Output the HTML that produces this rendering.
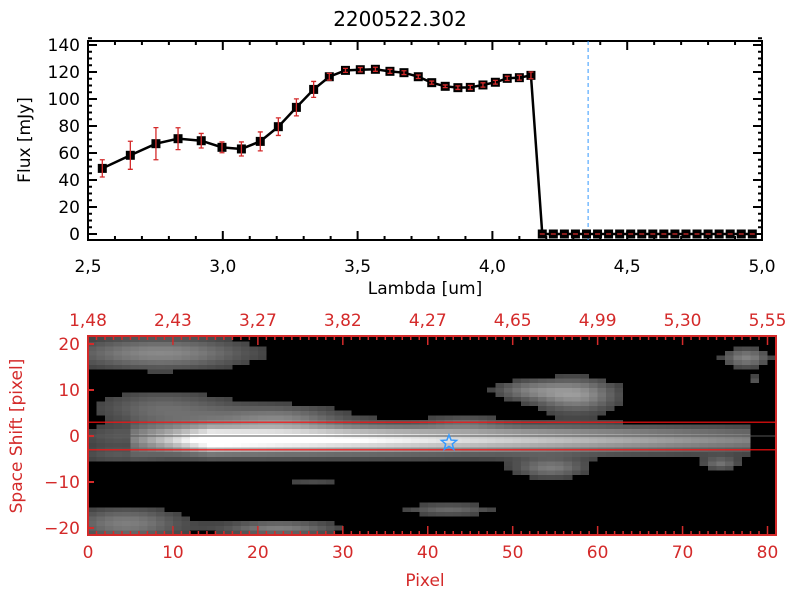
<!DOCTYPE html>
<html><head><meta charset="utf-8"><style>
html,body{margin:0;padding:0;background:#fff}
svg{display:block;font-family:"DejaVu Sans","Liberation Sans",sans-serif}
</style></head><body>
<svg id="c" width="800" height="600" viewBox="0 0 800 600">
<rect width="800" height="600" fill="#fff"/>
<text x="400" y="26" font-size="20" text-anchor="middle">2200522.302</text>
<g id="topPanel"></g>
<g id="botPanel"></g>
</svg>
<script>
const lambdas=[2.553,2.657,2.752,2.834,2.920,2.997,3.069,3.139,3.206,3.273,3.337,3.395,3.455,3.510,3.566,3.620,3.672,3.725,3.775,3.825,3.872,3.918,3.965,4.011,4.055,4.100,4.143,4.185,4.226,4.267,4.308,4.349,4.390,4.431,4.472,4.513,4.554,4.595,4.636,4.677,4.718,4.759,4.800,4.841,4.882,4.923,4.964];
const flux=[48.6,58.3,66.9,70.6,69.1,64.2,63.0,68.6,79.5,93.8,107.1,116.5,121.2,121.7,122.0,120.5,119.5,116.5,112.1,109.4,108.4,108.6,110.4,112.4,115.3,115.8,117.5,0,0,0,0,0,0,0,0,0,0,0,0,0,0,0,0,0,0,0,0];
const fluxErr=[6.4,10.4,11.9,8.1,5.4,4.0,5.2,7.0,6.5,6.3,5.9,2.5,1.5,1.6,1.5,1.5,1.4,1.3,1.2,1.0,1.3,1.5,1.6,1.4,1.6,1.8,2.5,0,0,0,0,0,0,0,0,0,0,0,0,0,0,0,0,0,0,0,0];
const xTicks=["2.5","3.0","3.5","4.0","4.5","5.0"];
const yTicks=[0,20,40,60,80,100,120,140];
const markLambda=4.355;
// image panel data
const pixTicks=[0,10,20,30,40,50,60,70,80];
const lamTopLabels=["1.48","2.43","3.27","3.82","4.27","4.65","4.99","5.30","5.55"];
const shiftTicks=[-20,-10,0,10,20];
const blobX=[8,8,22,57,51,77,78,54,74,4,22,42,26,44,3,3];
const blobY=[18,6,4,9,10,17,12,-7,-6,-19,-20,-16,-10,3,-4,0];
const blobSX=[8,6,5,3.5,3,2,1,3,1.5,5,5,4,3,3,4,4];
const blobSY=[2.5,3,2,2.5,1.5,1.5,1,1.5,1,2.5,1.2,1,1,1,1.5,1.5];
const blobAmp=[0.45,0.3,0.3,0.5,0.3,0.42,0.2,0.35,0.3,0.4,0.4,0.3,0.15,0.15,0.22,0.2];
const starPix=42.5, starShift=-1.5;

const NS="http://www.w3.org/2000/svg";
function mk(p,t,a){const e=document.createElementNS(NS,t);for(const k in a)e.setAttribute(k,a[k]);p.appendChild(e);return e;}
const topG=document.getElementById('topPanel'),botG=document.getElementById('botPanel');
const X0=88,X1=762,Y0=240,Y1=41;
const sx=l=>X0+(l-2.5)/2.5*(X1-X0);
const sy=v=>234-v*1.35;
const RED="#d42a2a";

let fr=mk(topG,'rect',{x:X0,y:Y1,width:X1-X0,height:Y0-Y1,fill:'none',stroke:'#000','stroke-width':2});

for(let i=0;i<=25;i++){const l=2.5+i*0.1,x=sx(l),len=(i%5==0)?9:4;
 mk(topG,'line',{x1:x,x2:x,y1:Y0,y2:Y0-len,stroke:'#000','stroke-width':2});
 mk(topG,'line',{x1:x,x2:x,y1:Y1,y2:Y1+len,stroke:'#000','stroke-width':2});}
xTicks.forEach(t=>{const e=mk(topG,'text',{x:sx(parseFloat(t)),y:272,'font-size':17,'text-anchor':'middle'});e.textContent=t.replace('.',',');
 });
for(let v=0;v<=145;v+=5){const y=sy(v),len=(v%20==0)?9:4;
 mk(topG,'line',{x1:X0,x2:X0+len,y1:y,y2:y,stroke:'#000','stroke-width':2});
 mk(topG,'line',{x1:X1,x2:X1-len,y1:y,y2:y,stroke:'#000','stroke-width':2});}
yTicks.forEach(v=>{const e=mk(topG,'text',{x:80,y:sy(v)+6,'font-size':17,'text-anchor':'end'});e.textContent=v;
 });
let t1=mk(topG,'text',{x:425,y:294,'font-size':17,'text-anchor':'middle'});t1.textContent='Lambda [um]';

let t2=mk(topG,'text',{x:0,y:0,'font-size':17,'text-anchor':'middle',transform:'translate(30,140) rotate(-90)'});t2.textContent='Flux [mJy]';

let vl=mk(topG,'line',{x1:sx(markLambda),x2:sx(markLambda),y1:Y1,y2:Y0,stroke:'#3399ff','stroke-width':1,'stroke-dasharray':'4,3'});

let pts=lambdas.map((l,i)=>sx(l)+','+sy(flux[i])).join(' ');
let pl=mk(topG,'polyline',{points:pts,fill:'none',stroke:'#000','stroke-width':2.5});

lambdas.forEach((l,i)=>{const x=sx(l),y=sy(flux[i]);
 const m=mk(topG,'rect',{x:x-4.5,y:y-4.5,width:9,height:9,fill:'#000'});
 
 const e=fluxErr[i]*1.35;
 const g=mk(topG,'path',{d:`M${x},${y-e}V${y+e}M${x-2.5},${y-e}h5M${x-2.5},${y+e}h5`,stroke:RED,'stroke-width':1.3,fill:'none'});
 if(e==0){g.setAttribute('d',`M${x-2.5},${y}h5`);}
 });

const BX0=88,BX1=776,BY0=336,BY1=535;
const px=p=>BX0+p*(BX1-BX0)/81;
const py=s=>436-s*4.6;
const img=mk(botG,'g',{'shape-rendering':'crispEdges'});

mk(img,'rect',{x:BX0,y:BY0,width:BX1-BX0,height:BY1-BY0,fill:'#000'});
for(let c=0;c<81;c++){for(let r=-22;r<=21;r++){
 let v=0;
 if(c>=5&&c<=77){const a=c<14?0.2+0.8*(c-5)/9:1.0-0.65*(c-14)/63;
  const d=r+0.8;v+=a*Math.exp(-d*d/(2*1.8*1.8))+0.22*a*Math.exp(-d*d/(2*4*4));}
 for(let b=0;b<blobX.length;b++){const dx=(c-blobX[b])/blobSX[b],dy=(r-blobY[b])/blobSY[b];v+=blobAmp[b]*Math.exp(-(dx*dx+dy*dy)/2);}
 if(v<0.13)continue;v=Math.min(1,v);const g=Math.round(40+215*v);
 const cell=mk(img,'rect',{x:px(c),y:py(r+0.5),width:8.6,height:4.7,fill:`rgb(${g},${g},${g})`});
 }}
mk(botG,'rect',{x:0,y:BY1+1,width:800,height:8,fill:'#fff'});
mk(botG,'rect',{x:0,y:BY0-9,width:800,height:8,fill:'#fff'});
mk(botG,'line',{x1:BX0,x2:BX1,y1:py(0),y2:py(0),stroke:'#555','stroke-width':1});
mk(botG,'line',{x1:BX0,x2:BX1,y1:py(3),y2:py(3),stroke:'#ff1010','stroke-width':1.2});
mk(botG,'line',{x1:BX0,x2:BX1,y1:py(-3),y2:py(-3),stroke:'#ff1010','stroke-width':1.2});
let fr2=mk(botG,'rect',{x:BX0,y:BY0,width:BX1-BX0,height:BY1-BY0,fill:'none',stroke:RED,'stroke-width':2});

for(let p=0;p<=81;p++){const x=px(p),len=(p%10==0)?9:4;
 mk(botG,'line',{x1:x,x2:x,y1:BY1,y2:BY1-len,stroke:RED,'stroke-width':1.5});
 mk(botG,'line',{x1:x,x2:x,y1:BY0,y2:BY0+len,stroke:RED,'stroke-width':1.5});}
shiftTicks.forEach(s=>{mk(botG,'line',{x1:BX0,x2:BX0+6,y1:py(s),y2:py(s),stroke:RED,'stroke-width':2});
 const e=mk(botG,'text',{x:80,y:py(s)+6,'font-size':17,'text-anchor':'end',fill:RED});e.textContent=s==0?'0':(s<0?'\u2212'+(-s):s);
 });
pixTicks.forEach((p,i)=>{let e=mk(botG,'text',{x:px(p),y:558,'font-size':17,'text-anchor':'middle',fill:RED});e.textContent=p;
 
 e=mk(botG,'text',{x:px(p),y:326,'font-size':17,'text-anchor':'middle',fill:RED});e.textContent=lamTopLabels[i].replace('.',',');
 });
let t3=mk(botG,'text',{x:425,y:586,'font-size':17,'text-anchor':'middle',fill:RED});t3.textContent='Pixel';

let t4=mk(botG,'text',{x:0,y:0,'font-size':17,'text-anchor':'middle',fill:RED,transform:'translate(22,436) rotate(-90)'});t4.textContent='Space Shift [pixel]';

const sxp=px(starPix),syp=py(starShift);let sp='';
for(let k=0;k<10;k++){const r=k%2?3.5:8,a=-Math.PI/2+k*Math.PI/5;sp+=(sxp+r*Math.cos(a))+','+(syp+r*Math.sin(a))+' ';}
let st=mk(botG,'polygon',{points:sp,fill:'none',stroke:'#3399ff','stroke-width':1.5});

</script>
</body></html>
